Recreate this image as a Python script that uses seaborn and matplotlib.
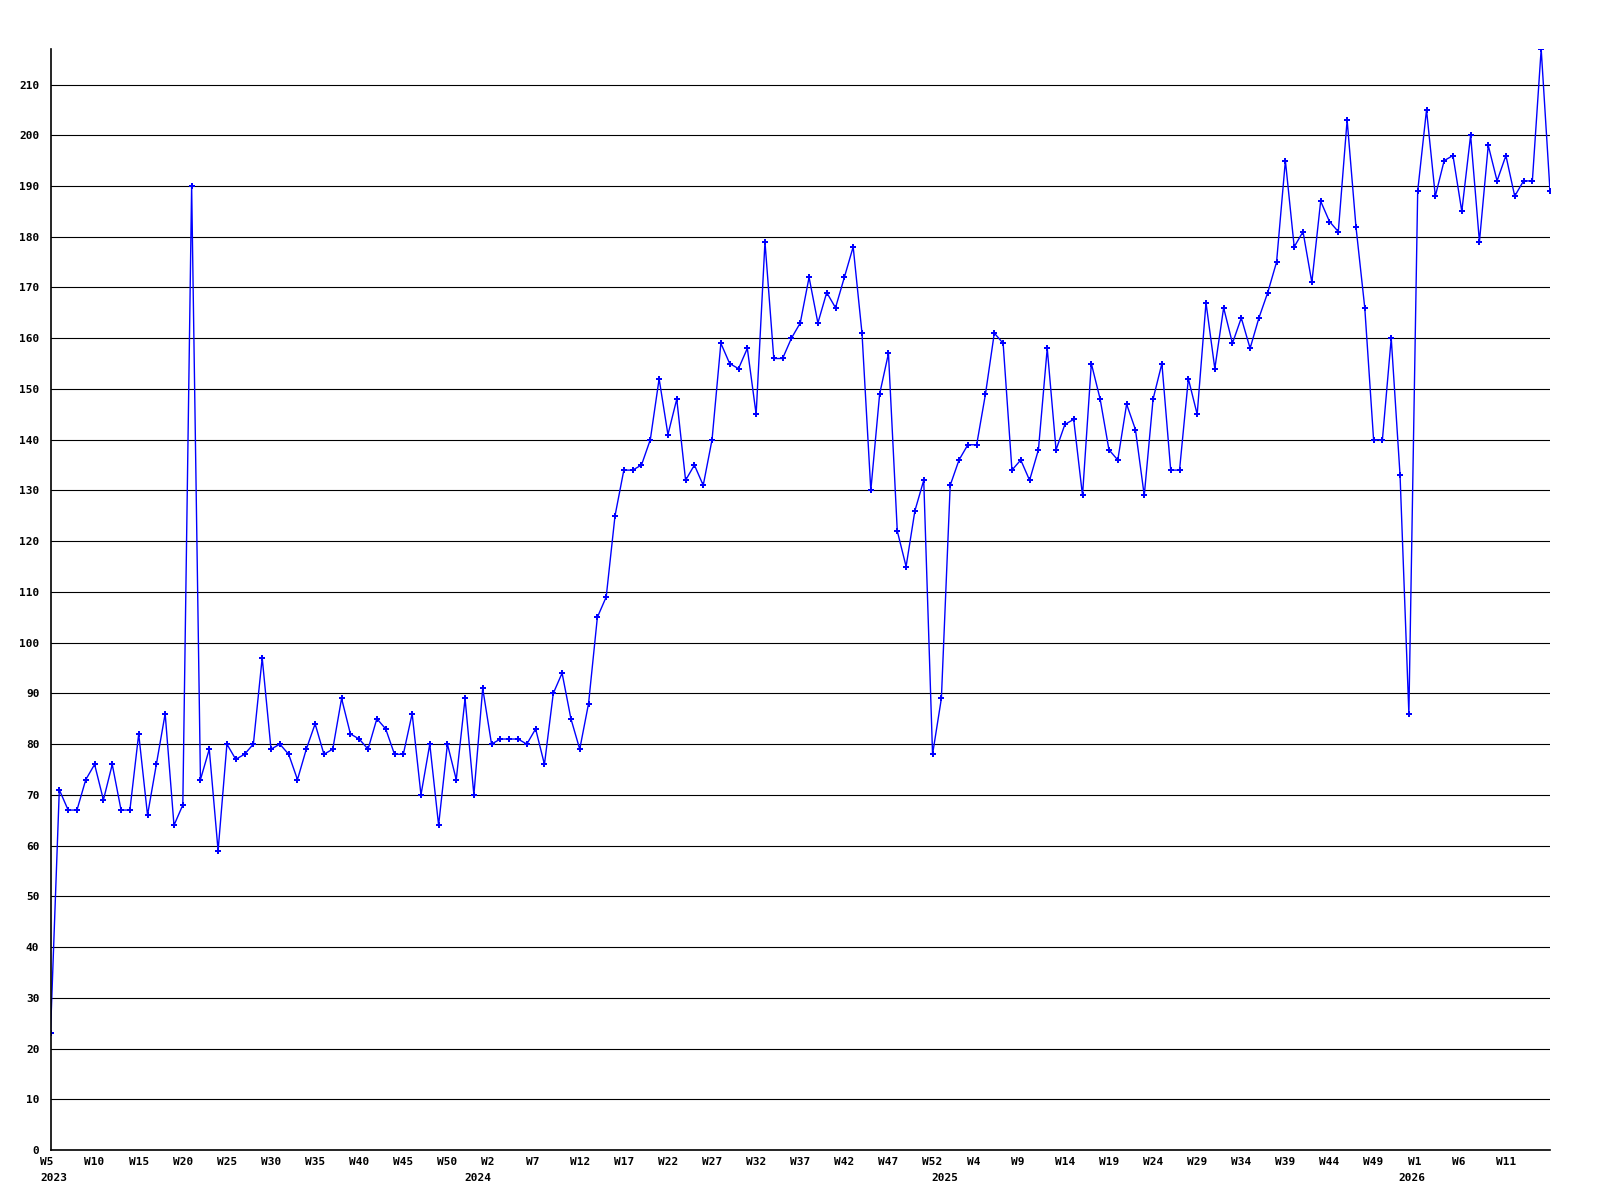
import matplotlib
matplotlib.use("Agg")
import matplotlib.pyplot as plt
import matplotlib.transforms as mtransforms
import seaborn as sns
import pandas as pd

# ---- data ----
values = [23, 71, 67, 67, 73, 76, 69, 76, 67, 67,
          82, 66, 76, 86, 64, 68, 190, 73, 79, 59,
          80, 77, 78, 80, 97, 79, 80, 78, 73, 79,
          84, 78, 79, 89, 82, 81, 79, 85, 83, 78,
          78, 86, 70, 80, 64, 80, 73, 89, 70, 91,
          80, 81, 81, 81, 80, 83, 76, 90, 94, 85,
          79, 88, 105, 109, 125, 134, 134, 135, 140, 152,
          141, 148, 132, 135, 131, 140, 159, 155, 154, 158,
          145, 179, 156, 156, 160, 163, 172, 163, 169, 166,
          172, 178, 161, 130, 149, 157, 122, 115, 126, 132,
          78, 89, 131, 136, 139, 139, 149, 161, 159, 134,
          136, 132, 138, 158, 138, 143, 144, 129, 155, 148,
          138, 136, 147, 142, 129, 148, 155, 134, 134, 152,
          145, 167, 154, 166, 159, 164, 158, 164, 169, 175,
          195, 178, 181, 171, 187, 183, 181, 203, 182, 166,
          140, 140, 160, 133, 86, 189, 205, 188, 195, 196,
          185, 200, 179, 198, 191, 196, 188, 191, 191, 217,
          189]

week_tick_labels = ["W5", "W10", "W15", "W20", "W25", "W30", "W35", "W40", "W45", "W50",
                    "W2", "W7", "W12", "W17", "W22", "W27", "W32", "W37", "W42", "W47", "W52",
                    "W4", "W9", "W14", "W19", "W24", "W29", "W34", "W39", "W44", "W49",
                    "W1", "W6", "W11"]
year_labels = ["2023", "2024", "2025", "2026"]
year_start_index = [0, 48, 101, 154]

df = pd.DataFrame({"idx": list(range(len(values))), "value": values})

# ---- figure ----
sns.set_theme(style="white")
plt.rcParams["font.family"] = ["DejaVu Sans Mono", "DejaVu Sans"]

fig = plt.figure(figsize=(16, 12), dpi=100)
ax = fig.add_axes([50.5 / 1600, 1 - 1150 / 1200, (1550 - 50.5) / 1600, (1150 - 49) / 1200])

sns.lineplot(data=df, x="idx", y="value", ax=ax, color="#0000ff", linewidth=1.0,
             marker="P", markersize=5, markeredgewidth=0, markerfacecolor="#0000ff",
             clip_on=True)

ax.set_xlim(0, len(values) - 1)
ax.set_ylim(0, max(values))
ax.set_yticks(range(0, 211, 10))
ax.set_yticklabels([str(v) for v in range(0, 211, 10)], fontsize=8, fontweight="bold")
ax.grid(axis="y", color="black", linewidth=0.8)
ax.grid(axis="x", visible=False)
ax.set_axisbelow(True)

# week labels: monospaced, padded to 3 chars and centred, so they start ~10 px left of the tick
tick_pos = list(range(0, 5 * len(week_tick_labels), 5))
ax.set_xticks(tick_pos)
ax.set_xticklabels([lbl.ljust(3) for lbl in week_tick_labels],
                   fontsize=8, fontweight="bold", ha="center")

ax.tick_params(axis="both", length=0, colors="black")
ax.tick_params(axis="y", pad=8)
ax.tick_params(axis="x", pad=5)

offset = mtransforms.ScaledTranslation(-10 / 100, 0, fig.dpi_scale_trans)
trans = mtransforms.blended_transform_factory(ax.transData, ax.transAxes) + offset
for lbl, pos in zip(year_labels, year_start_index):
    ax.text(pos, -0.021, lbl, transform=trans, ha="left", va="top",
            fontsize=8, fontweight="bold", color="black")

ax.set_xlabel("")
ax.set_ylabel("")
for side in ["top", "right"]:
    ax.spines[side].set_visible(False)
for side in ["left", "bottom"]:
    ax.spines[side].set_color("black")
    ax.spines[side].set_linewidth(1.2)

fig.savefig("out.png", dpi=100, facecolor="white")
